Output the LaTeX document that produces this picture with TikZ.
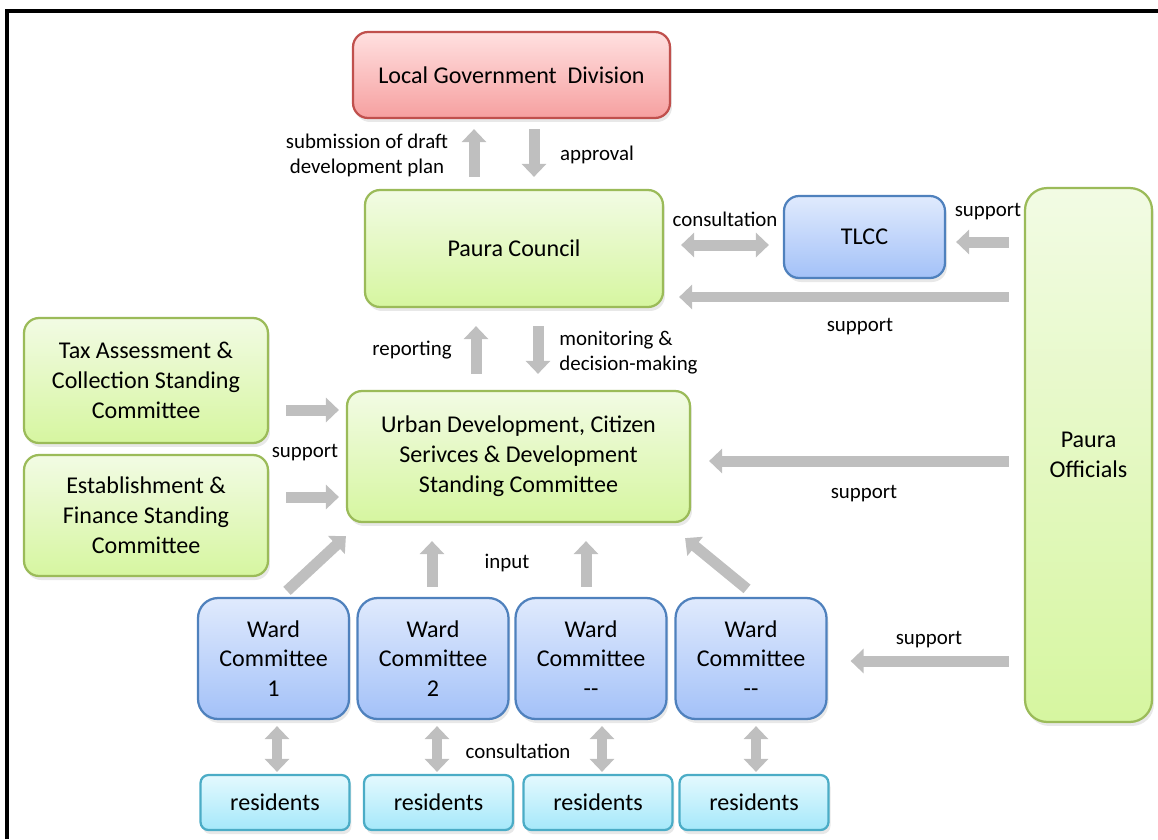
\documentclass[tikz,border=0pt]{standalone}
\usepackage{fontspec}
\setmainfont{Carlito}
\usepackage{xcolor}
\usetikzlibrary{arrows.meta}
\usetikzlibrary{shadows}
\definecolor{greenTop}{RGB}{242,251,228}
\definecolor{greenBot}{RGB}{214,246,160}
\definecolor{greenLine}{RGB}{155,187,89}
\definecolor{blueTop}{RGB}{224,234,253}
\definecolor{blueBot}{RGB}{163,193,248}
\definecolor{blueLine}{RGB}{79,129,189}
\definecolor{redTop}{RGB}{255,224,224}
\definecolor{redBot}{RGB}{246,160,160}
\definecolor{redLine}{RGB}{192,80,77}
\definecolor{cyanTop}{RGB}{228,249,254}
\definecolor{cyanBot}{RGB}{165,232,250}
\definecolor{cyanLine}{RGB}{75,172,198}
\definecolor{arrowGray}{RGB}{191,191,191}
\tikzset{
	box/.style={
		rounded corners=0.3cm,
		line width=0.045cm,
		align=center,
		font=\fontsize{13.7}{17}\selectfont,
		drop shadow={shadow xshift=0.04cm,shadow yshift=-0.08cm,opacity=0.18}
	},
	greenbox/.style={box,draw=greenLine,top color=greenTop,bottom color=greenBot},
	bluebox/.style={box,draw=blueLine,top color=blueTop,bottom color=blueBot},
	redbox/.style={box,draw=redLine,top color=redTop,bottom color=redBot},
	cyanbox/.style={box,rounded corners=0.16cm,draw=cyanLine,top color=cyanTop,bottom color=cyanBot},
	fat/.style={arrowGray,line width=0.22cm,-{Triangle[width=0.48cm,length=0.26cm]}},
	fatboth/.style={fat,{Triangle[width=0.48cm,length=0.26cm]}-{Triangle[width=0.48cm,length=0.26cm]}},
	lbl/.style={font=\fontsize{11.9}{14.2}\selectfont,align=center,inner sep=0}
}

\begin{document}
\begin{tikzpicture}[x=0.02cm,y=-0.02cm]
	\useasboundingbox (0,0) rectangle (1158,839);
	% frame
	\draw[line width=0.08cm] (7,839) -- (7,11) -- (1158,11);

	% top levels
	\node[redbox,minimum width=6.34cm,minimum height=1.72cm] (lgd) at (511.5,75) {Local Government\ \ Division};
	\node[greenbox,minimum width=5.96cm,minimum height=2.34cm] (pc) at (514,248.5) {Paura Council};
	\node[bluebox,minimum width=3.22cm,minimum height=1.64cm] (tlcc) at (864.5,237) {TLCC};
	\node[greenbox,rounded corners=0.44cm,minimum width=2.54cm,minimum height=10.68cm] (off) at (1088.5,455) {Paura\\Officials};

	% standing committees
	\node[greenbox,minimum width=4.88cm,minimum height=2.5cm] (tax) at (146,380.5) {Tax Assessment \&\\Collection Standing\\Committee};
	\node[greenbox,minimum width=4.88cm,minimum height=2.42cm] (est) at (146,515.5) {Establishment \&\\Finance Standing\\Committee};
	\node[greenbox,minimum width=6.86cm,minimum height=2.62cm] (udc) at (518.5,456.5) {Urban Development, Citizen\\Serivces \& Development\\Standing Committee};

	% wards and residents
	\foreach \i/\x/\rx/\n in {1/273.5/275/1,2/433/438.5/2,3/591/598/{-}{-},4/751/754/{-}{-}}{
		\node[bluebox,rounded corners=0.4cm,minimum width=3.02cm,minimum height=2.42cm] (w\i) at (\x,658.5) {Ward\\Committee\\\n};
		\node[cyanbox,minimum width=2.98cm,minimum height=1.1cm] (r\i) at (\rx,802.5) {residents};
	}

	% arrows
	\draw[fat,shorten <=0.24cm,shorten >=0.2cm] ([xshift=-0.8cm]pc.north) -- ([xshift=-0.8cm]pc.north |- lgd.south);
	\draw[fat,shorten <=0.2cm,shorten >=0.24cm] ([xshift=0.4cm]pc.north |- lgd.south) -- ([xshift=0.4cm]pc.north);
	\draw[fatboth,shorten <=0.34cm,shorten >=0.28cm] ([yshift=0.07cm]pc.east) -- ([yshift=0.07cm]pc.east -| tlcc.west);
	\draw[fat,shorten <=0.3cm,shorten >=0.2cm] ([yshift=-0.1cm]tlcc.east -| off.west) -- ([yshift=-0.1cm]tlcc.east);
	\draw[fat,shorten <=0.3cm,shorten >=0.3cm] ([yshift=-0.97cm]pc.east -| off.west) -- ([yshift=-0.97cm]pc.east);
	\draw[fat,shorten <=0.32cm,shorten >=0.36cm] ([xshift=-0.85cm]udc.north) -- ([xshift=-0.85cm]udc.north |- pc.south);
	\draw[fat,shorten <=0.36cm,shorten >=0.32cm] ([xshift=0.39cm]udc.north |- pc.south) -- ([xshift=0.39cm]udc.north);
	\draw[fat,shorten <=0.34cm,shorten >=0.14cm] ([yshift=-0.59cm]tax.east) -- ([yshift=-0.59cm]tax.east -| udc.west);
	\draw[fat,shorten <=0.34cm,shorten >=0.14cm] ([yshift=0.37cm]est.east) -- ([yshift=0.37cm]est.east -| udc.west);
	\draw[fat,shorten <=0.3cm,shorten >=0.36cm] ([yshift=-0.09cm]udc.east -| off.west) -- ([yshift=-0.09cm]udc.east);
	\draw[fat] ([xshift=0.27cm,yshift=0.12cm]w1.north) -- ([yshift=-0.26cm]udc.south west);
	\draw[fat,shorten <=0.2cm,shorten >=0.36cm] ([xshift=-0.02cm]w2.north) -- ([xshift=-0.02cm]w2.north |- udc.south);
	\draw[fat,shorten <=0.2cm,shorten >=0.36cm] ([xshift=-0.1cm]w3.north) -- ([xshift=-0.1cm]w3.north |- udc.south);
	\draw[fat] ([xshift=-0.08cm,yshift=0.16cm]w4.north) -- ([xshift=-0.12cm,yshift=-0.3cm]udc.south east);
	\draw[fat,shorten <=0.3cm,shorten >=0.46cm] ([yshift=-0.05cm]w4.east -| off.west) -- ([yshift=-0.05cm]w4.east);
	\foreach \i/\dx in {1/0.04,2/-0.03,3/0.08,4/0.04}
		\draw[fatboth,line width=0.2cm,shorten <=0.04cm,shorten >=0.12cm] ([xshift=\dx cm]r\i.north) -- ([xshift=\dx cm]r\i.north |- w\i.south);

	% labels
	\node[lbl] (lsub) at (367,155) {submission of draft\\development plan};
	\node[lbl] (lapp) at (597,155) {approval};
	\node[lbl] (lcons) at (725,219) {consultation};
	\node[lbl] (lsupt) at (988,212) {support};
	\node[lbl] (lsuppc) at (860,327) {support};
	\node[lbl] (lrep) at (412,350) {reporting};
	\node[lbl,anchor=west,align=left] (lmon) at (559,353) {monitoring \&\\decision-making};
	\node[lbl] (lsupl) at (305,453) {support};
	\node[lbl] (lsupu) at (864,494) {support};
	\node[lbl] (linp) at (507,563) {input};
	\node[lbl] (lsupw) at (929,640) {support};
	\node[lbl] (lconw) at (518,751) {consultation};
\end{tikzpicture}
\end{document}
